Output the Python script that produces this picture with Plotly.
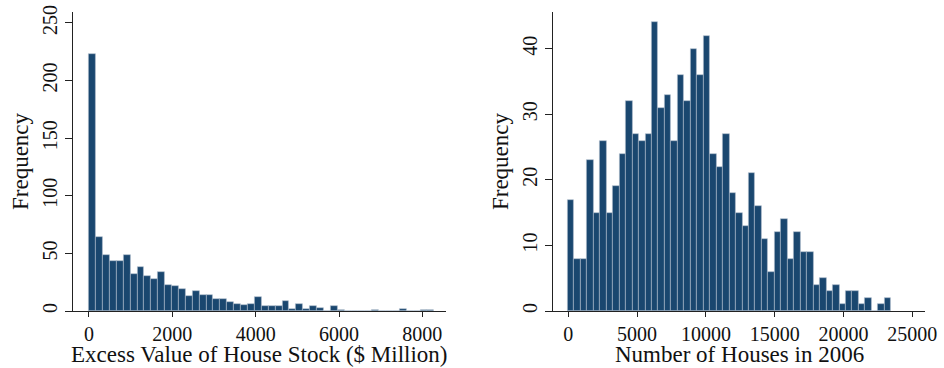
import numpy as np
import plotly.graph_objects as go

# Left histogram: Excess Value of House Stock ($ Million), 50 bins
left_start = 0.0
left_width = 165.6
left_counts = [223, 64, 49, 43, 43, 49, 32, 38, 30, 28,
               34, 23, 22, 19, 13, 17, 14, 14, 10, 10,
               8, 6, 5, 6, 12, 4, 4, 4, 9, 2,
               6, 2, 4, 3, 0, 4, 1, 0, 0, 0,
               0, 1, 0, 0, 0, 2, 0, 0, 1, 1]
left_xticks = [0, 2000, 4000, 6000, 8000]
left_yticks = [0, 50, 100, 150, 200, 250]

# Right histogram: Number of Houses in 2006, 50 bins
right_start = -50.0
right_width = 470.0
right_counts = [17, 8, 8, 23, 15, 26, 15, 19, 24, 32,
                27, 26, 27, 44, 31, 33, 26, 36, 32, 40,
                36, 42, 24, 22, 27, 18, 15, 13, 21, 16,
                11, 6, 12, 14, 8, 12, 9, 9, 4, 5,
                3, 4, 1, 3, 3, 1, 2, 0, 1, 2]
right_xticks = [0, 5000, 10000, 15000, 20000, 25000]
right_yticks = [0, 10, 20, 30, 40]

left_xtitle = "Excess Value of House Stock ($ Million)"
right_xtitle = "Number of Houses in 2006"
ytitle = "Frequency"

BAR = "#1a476f"
EDGE = "#aebccb"
FONT = "Liberation Serif"

def centers(start, width, n):
    return start + width * (np.arange(n) + 0.5)

fig = go.Figure()
fig.add_trace(go.Bar(x=centers(left_start, left_width, len(left_counts)), y=left_counts,
                     width=left_width, marker=dict(color=BAR, line=dict(color=EDGE, width=0.6)),
                     xaxis="x", yaxis="y", showlegend=False))
fig.add_trace(go.Bar(x=centers(right_start, right_width, len(right_counts)), y=right_counts,
                     width=right_width, marker=dict(color=BAR, line=dict(color=EDGE, width=0.6)),
                     xaxis="x2", yaxis="y2", showlegend=False))

W, H = 944, 368
axis_common = dict(showgrid=False, zeroline=False, showline=True, linecolor="#222",
                   linewidth=1.2, ticks="outside", tickcolor="#222", tickwidth=1.2,
                   automargin=False,
                   tickfont=dict(family=FONT, size=20, color="#111"))

fig.update_layout(
    width=W, height=H, margin=dict(l=0, r=0, t=0, b=0, autoexpand=False),
    paper_bgcolor="white", plot_bgcolor="white", bargap=0,
    font=dict(family=FONT, size=20, color="#111"),
    xaxis=dict(domain=[72.7 / W, 446 / W], range=[-391, 8568], tickvals=left_xticks,
               ticktext=[str(v) for v in left_xticks],
               ticklen=5, anchor="y", **axis_common),
    yaxis=dict(domain=[57 / H, 356 / H], range=[0, 259.5], tickvals=left_yticks,
               ticklen=7, tickangle=-90, anchor="x",
               title=dict(text=ytitle, font=dict(family=FONT, size=23), standoff=3),
               **axis_common),
    xaxis2=dict(domain=[552.7 / W, 925 / W], range=[-1134, 25922], tickvals=right_xticks,
                ticktext=[str(v) for v in right_xticks],
                ticklen=5, anchor="y2", **axis_common),
    yaxis2=dict(domain=[57 / H, 356 / H], range=[0, 45.6], tickvals=right_yticks,
                ticklen=7, tickangle=-90, anchor="x2",
                title=dict(text=ytitle, font=dict(family=FONT, size=23), standoff=3),
                **axis_common),
    annotations=[
        dict(text=left_xtitle, xref="paper", yref="paper", x=259.4 / W, y=(H - 354) / H,
             xanchor="center", yanchor="middle", showarrow=False, borderpad=0,
             font=dict(family=FONT, size=23, color="#111")),
        dict(text=right_xtitle, xref="paper", yref="paper", x=739 / W, y=(H - 354) / H,
             xanchor="center", yanchor="middle", showarrow=False, borderpad=0,
             font=dict(family=FONT, size=23, color="#111")),
    ],
)

fig.write_html("out.html")
